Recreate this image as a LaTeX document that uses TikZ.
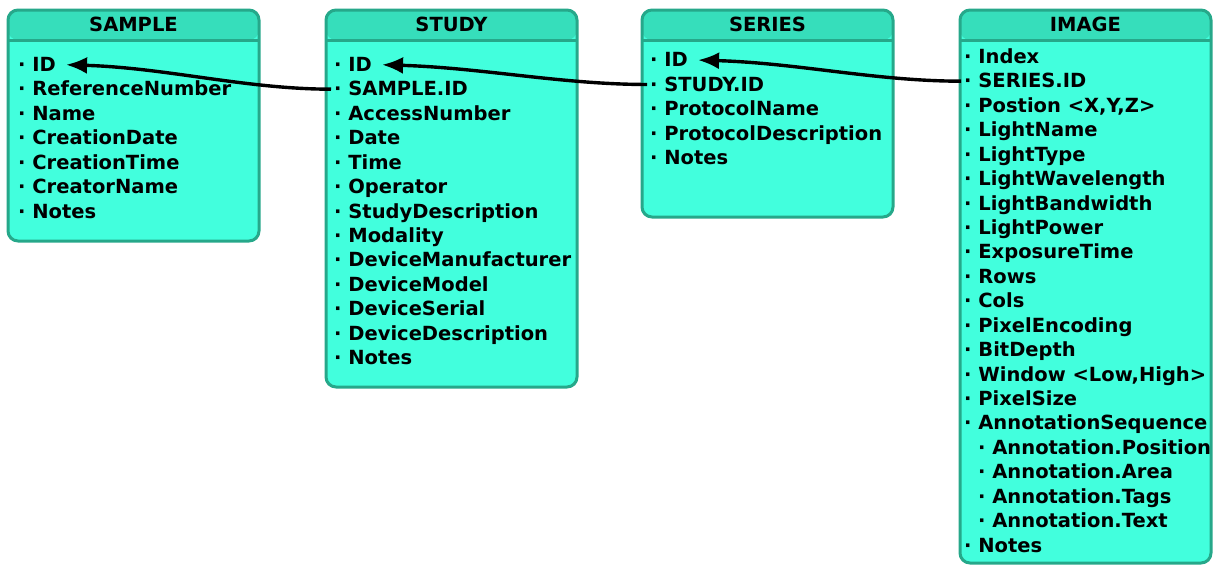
\documentclass[tikz,border=0pt]{standalone}
\usepackage{fontspec}
\setmainfont{DejaVu Sans}
\usetikzlibrary{arrows.meta}
\definecolor{bodyc}{RGB}{66,255,221}
\definecolor{headc}{RGB}{54,222,187}
\definecolor{edgec}{RGB}{38,168,138}
\begin{document}
\begin{tikzpicture}[x=1pt,y=-1pt,
  tbl/.style={draw=edgec, line width=3pt, fill=bodyc, rounded corners=10pt,
    minimum width=251pt, anchor=north west, inner sep=0pt, outer sep=0pt,
    path picture={\fill[headc] (path picture bounding box.north west) rectangle ([yshift=-30pt]path picture bounding box.north east);}},
  sep/.style={draw=edgec, line width=3pt},
  htitle/.style={font=\fontsize{19.5}{23}\selectfont\bfseries, inner sep=0pt, text height=13.5pt, text depth=0pt, anchor=center},
  item/.style={font=\fontsize{19.5}{23}\selectfont\bfseries, inner sep=0pt, text height=13.5pt, text depth=0pt, anchor=base west},
  conn/.style={-{Latex[length=21pt,width=17pt]}, line width=3.4pt, black}]
\useasboundingbox (0,0) rectangle (1216,565);

% boxes
\node[tbl, minimum height=231pt] (sample) at (8,10) {};
\node[tbl, minimum height=377pt] (study) at (326,10) {};
\node[tbl, minimum height=207pt] (series) at (642,10) {};
\node[tbl, minimum height=553pt] (image) at (960,10) {};
\foreach \b in {sample,study,series,image}
  \draw[sep] ([yshift=-30pt]\b.north west) -- ([yshift=-30pt]\b.north east);

% titles
\node[htitle] (sample-t) at ([yshift=-15pt]sample.north) {SAMPLE};
\node[htitle] (study-t) at ([yshift=-15pt]study.north) {STUDY};
\node[htitle] (series-t) at ([yshift=-15pt]series.north) {SERIES};
\node[htitle] (image-t) at ([yshift=-15pt]image.north) {IMAGE};

% items
\foreach \t [count=\i from 0] in {ID, ReferenceNumber, Name, CreationDate, CreationTime, CreatorName, Notes}
  \node[item] (sample-\i) at (18,{71.5+\i*24.43}) {· \t};
\foreach \t [count=\i from 0] in {ID, SAMPLE.ID, AccessNumber, Date, Time, Operator, StudyDescription, Modality, DeviceManufacturer, DeviceModel, DeviceSerial, DeviceDescription, Notes}
  \node[item] (study-\i) at (334,{71.5+\i*24.43}) {· \t};
\foreach \t [count=\i from 0] in {ID, STUDY.ID, ProtocolName, ProtocolDescription, Notes}
  \node[item] (series-\i) at (650,{66.8+\i*24.43}) {· \t};
\foreach \dx/\t [count=\i from 0] in {0/Index, 0/SERIES.ID, 0/{Postion <X,Y,Z>}, 0/LightName, 0/LightType, 0/LightWavelength, 0/LightBandwidth, 0/LightPower, 0/ExposureTime, 0/Rows, 0/Cols, 0/PixelEncoding, 0/BitDepth, 0/{Window <Low,High>}, 0/PixelSize, 0/AnnotationSequence, 14/Annotation.Position, 14/Annotation.Area, 14/Annotation.Tags, 14/Annotation.Text, 0/Notes}
  \node[item] (image-\i) at ({964+\dx},{63.5+\i*24.43}) {· \t};

% connectors
\draw[conn] ([xshift=-3pt]study-1.west) .. controls +(-85,0) and +(100,3) .. ([xshift=10pt]sample-0.east);
\draw[conn] ([xshift=-3pt]series-1.west) .. controls +(-85,0) and +(100,3) .. ([xshift=10pt]study-0.east);
\draw[conn] ([xshift=-3pt]image-1.west) .. controls +(-85,0) and +(100,3) .. ([xshift=10pt]series-0.east);
\end{tikzpicture}
\end{document}
